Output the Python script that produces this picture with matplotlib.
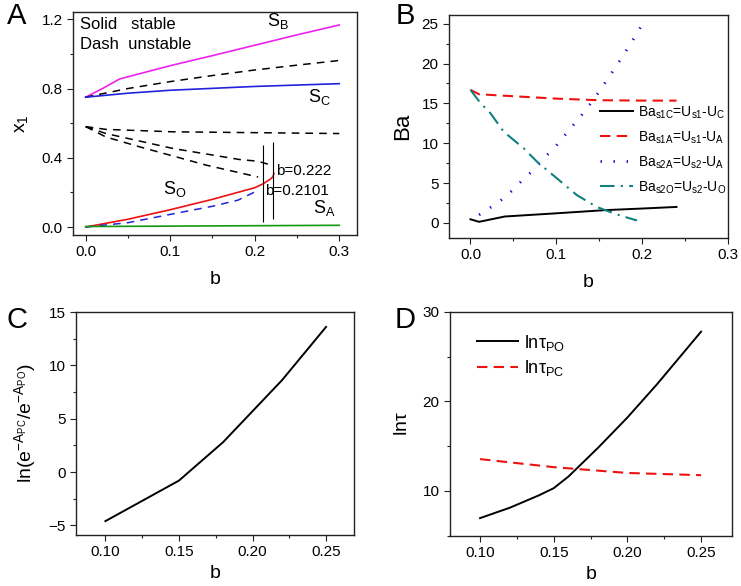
import numpy as np
import matplotlib
matplotlib.use('Agg')
import matplotlib.pyplot as plt
from matplotlib.ticker import MultipleLocator, FormatStrFormatter

plt.rcParams['font.family'] = ['Liberation Sans', 'DejaVu Sans']
plt.rcParams['mathtext.fontset'] = 'custom'
plt.rcParams['mathtext.rm'] = 'Liberation Sans'
plt.rcParams['mathtext.it'] = 'Liberation Sans'
plt.rcParams['mathtext.default'] = 'rm'

# ---- panel A data
b_SB = [0, 0.02, 0.04, 0.1, 0.15, 0.2, 0.25, 0.3]
x_SB = [0.75, 0.80, 0.855, 0.932, 0.99, 1.05, 1.11, 1.167]
b_up = [0, 0.025, 0.05, 0.1, 0.15, 0.2, 0.25, 0.3]
x_up = [0.75, 0.775, 0.80, 0.84, 0.875, 0.907, 0.935, 0.962]
b_SC = [0, 0.05, 0.1, 0.2, 0.3]
x_SC = [0.75, 0.773, 0.79, 0.812, 0.828]
b_flat = [0, 0.024, 0.103, 0.2215, 0.3]
x_flat = [0.58, 0.564, 0.55, 0.544, 0.54]
b_mid = [0, 0.024, 0.103, 0.182, 0.204, 0.221]
x_mid = [0.58, 0.54, 0.454, 0.39, 0.38, 0.355]
b_low = [0, 0.024, 0.064, 0.143, 0.204]
x_low = [0.58, 0.52, 0.463, 0.357, 0.289]
b_SO = [0, 0.05, 0.1, 0.15, 0.2, 0.21, 0.218, 0.2215, 0.2227]
x_SO = [0, 0.045, 0.1, 0.16, 0.227, 0.25, 0.275, 0.29, 0.31]
b_bd = [0, 0.05, 0.1, 0.15, 0.18, 0.204]
x_bd = [0, 0.025, 0.073, 0.12, 0.155, 0.212]
b_SA = [0, 0.3]
x_SA = [0.003, 0.01]
b_crit = [0.2101, 0.222]
crit_lo = [0.029, 0.044]
crit_hi = [0.475, 0.492]

# ---- panel B data
b_s1C = [0, 0.01, 0.04, 0.1, 0.157, 0.2, 0.24]
ba_s1C = [0.45, 0.13, 0.8, 1.2, 1.6, 1.8, 2.0]
b_s1A = [0, 0.01, 0.05, 0.1, 0.15, 0.2, 0.24]
ba_s1A = [16.7, 16.15, 15.9, 15.6, 15.4, 15.35, 15.35]
b_s2A = [0.01, 0.02, 0.03, 0.04, 0.05, 0.06, 0.07, 0.08, 0.09, 0.10, 0.11,
         0.12, 0.13, 0.14, 0.15, 0.16, 0.17, 0.18, 0.19, 0.20]
ba_s2A = [1.0, 1.7, 2.4, 3.2, 4.2, 5.3, 6.3, 7.4, 8.6, 9.7, 11.0,
          12.3, 13.6, 15.0, 16.5, 18.1, 19.7, 21.4, 23.1, 24.9]
b_s2O = [0, 0.012, 0.0233, 0.0387, 0.062, 0.0776, 0.1008, 0.124, 0.147,
         0.157, 0.175, 0.194]
ba_s2O = [16.7, 15.0, 13.76, 11.45, 9.36, 7.67, 5.58, 3.48, 2.01,
          1.6, 0.9, 0.3]

# ---- panel C data
b_C = [0.10, 0.15, 0.18, 0.20, 0.22, 0.25]
lnratio = [-4.6, -0.8, 2.8, 5.7, 8.6, 13.6]

# ---- panel D data
b_PO = [0.10, 0.12, 0.14, 0.15, 0.16, 0.17, 0.18, 0.20, 0.22, 0.25]
tau_PO = [6.95, 8.1, 9.5, 10.3, 11.6, 13.2, 14.8, 18.2, 21.9, 27.8]
b_PC = [0.10, 0.15, 0.20, 0.25]
tau_PC = [13.55, 12.65, 12.0, 11.75]

W, H = 741, 586
fig = plt.figure(figsize=(W / 100, H / 100), dpi=100)


def box(l, r, t, b):
    return [l / W, 1 - b / H, (r - l) / W, (b - t) / H]


def style(ax):
    for s in ax.spines.values():
        s.set_linewidth(1.0)
        s.set_color('#222222')
    ax.tick_params(which='both', direction='out', top=False, right=False,
                   labelsize=11, width=0.8, color='#222222')
    ax.tick_params(which='major', length=4)
    ax.tick_params(which='minor', length=2.5)


axA = fig.add_axes(box(73, 357, 12, 235))
axB = fig.add_axes(box(449, 728, 15, 238))
axC = fig.add_axes(box(76, 354, 312, 535))
axD = fig.add_axes(box(450, 732, 312, 536))

# ---------------- A
dash = (0, (5, 4))
axA.plot(b_SB, x_SB, color='#ee22ee', lw=1.2)
axA.plot(b_up, x_up, color='k', lw=1.1, ls=dash)
axA.plot(b_SC, x_SC, color='#2222dd', lw=1.2)
axA.plot(b_flat, x_flat, color='k', lw=1.1, ls=dash)
axA.plot(b_mid, x_mid, color='k', lw=1.1, ls=dash)
axA.plot(b_low, x_low, color='k', lw=1.1, ls=dash)
axA.plot(b_SO, x_SO, color='#ee1111', lw=1.2)
axA.plot(b_bd, x_bd, color='#2222dd', lw=1.1, ls=dash)
axA.plot(b_SA, x_SA, color='#119911', lw=1.2)
axA.vlines(b_crit, crit_lo, crit_hi, color='k', lw=0.8)
axA.set_xlim(-0.015, 0.321)
axA.set_ylim(-0.046, 1.242)
axA.xaxis.set_major_locator(MultipleLocator(0.1))
axA.xaxis.set_minor_locator(MultipleLocator(0.05))
axA.yaxis.set_major_locator(MultipleLocator(0.4))
axA.yaxis.set_minor_locator(MultipleLocator(0.2))
axA.xaxis.set_major_formatter(FormatStrFormatter('%.1f'))
axA.yaxis.set_major_formatter(FormatStrFormatter('%.1f'))
axA.set_xlabel('b', fontsize=14, labelpad=8)
axA.set_ylabel('x$_1$', fontsize=14, labelpad=8)
fs = 12
axA.text(-0.0067, 1.168, 'Solid   stable', fontsize=fs, va='center')
axA.text(-0.0067, 1.052, 'Dash  unstable', fontsize=fs, va='center')
axA.text(0.214, 1.19, 'S$_\\mathregular{B}$', fontsize=fs + 1, va='center')
axA.text(0.263, 0.75, 'S$_\\mathregular{C}$', fontsize=fs + 1, va='center')
axA.text(0.0915, 0.218, 'S$_\\mathregular{O}$', fontsize=fs + 1, va='center')
axA.text(0.269, 0.108, 'S$_\\mathregular{A}$', fontsize=fs + 1, va='center')
axA.text(0.225, 0.322, 'b=0.222', fontsize=11, va='center')
axA.text(0.212, 0.207, 'b=0.2101', fontsize=11, va='center')
style(axA)

# ---------------- B
axB.plot(b_s1C, ba_s1C, color='k', lw=1.4,
         label='Ba$_{s1C}$=U$_{s1}$-U$_C$')
axB.plot(b_s1A, ba_s1A, color='#ee1111', lw=1.5, ls=(0, (5, 3)),
         label='Ba$_{s1A}$=U$_{s1}$-U$_A$')
axB.plot(b_s2A, ba_s2A, color='#1111cc', lw=2.0, ls=(0, (0.5, 4.2)),
         label='Ba$_{s2A}$=U$_{s2}$-U$_A$')
axB.plot(b_s2O, ba_s2O, color='#118080', lw=1.5, ls=(0, (7, 3, 1, 3)),
         label='Ba$_{s2O}$=U$_{s2}$-U$_O$')
axB.set_xlim(-0.025, 0.3)
axB.set_ylim(-1.9, 26.1)
axB.xaxis.set_major_locator(MultipleLocator(0.1))
axB.xaxis.set_minor_locator(MultipleLocator(0.05))
axB.yaxis.set_major_locator(MultipleLocator(5))
axB.yaxis.set_minor_locator(MultipleLocator(2.5))
axB.xaxis.set_major_formatter(FormatStrFormatter('%.1f'))
axB.set_xlabel('b', fontsize=14, labelpad=8)
axB.set_ylabel('Ba', fontsize=16, labelpad=6)
axB.legend(loc='upper left', bbox_to_anchor=(0.52, 0.625), frameon=False,
           fontsize=10, handlelength=2.4, handletextpad=0.35,
           labelspacing=0.62, borderaxespad=0)
style(axB)

# ---------------- C
axC.plot(b_C, lnratio, color='k', lw=1.4)
axC.set_xlim(0.08, 0.269)
axC.set_ylim(-5.9, 15)
axC.xaxis.set_major_locator(MultipleLocator(0.05))
axC.xaxis.set_minor_locator(MultipleLocator(0.025))
axC.yaxis.set_major_locator(MultipleLocator(5))
axC.yaxis.set_minor_locator(MultipleLocator(2.5))
axC.xaxis.set_major_formatter(FormatStrFormatter('%.2f'))
axC.set_xlabel('b', fontsize=14, labelpad=4)
axC.set_ylabel('ln(e$^{-A_{PC}}$/e$^{-A_{PO}}$)', fontsize=14, labelpad=7)
style(axC)

# ---------------- D
axD.plot(b_PO, tau_PO, color='k', lw=1.4, label='ln$\\tau_{PO}$')
axD.plot(b_PC, tau_PC, color='#ee1111', lw=1.5, ls=(0, (5, 3)),
         label='ln$\\tau_{PC}$')
axD.set_xlim(0.0796, 0.271)
axD.set_ylim(4.95, 30)
axD.xaxis.set_major_locator(MultipleLocator(0.05))
axD.xaxis.set_minor_locator(MultipleLocator(0.025))
axD.yaxis.set_major_locator(MultipleLocator(10))
axD.yaxis.set_minor_locator(MultipleLocator(5))
axD.xaxis.set_major_formatter(FormatStrFormatter('%.2f'))
axD.set_xlabel('b', fontsize=14, labelpad=4)
axD.set_ylabel('ln$\\tau$', fontsize=14, labelpad=8)
axD.legend(loc='upper left', bbox_to_anchor=(0.07, 0.94), frameon=False,
           fontsize=13, handlelength=2.3, handletextpad=0.3,
           labelspacing=0.3, borderaxespad=0)
style(axD)

# panel letters
for lab, x, y in [('A', 7, 24), ('B', 396, 24), ('C', 6, 328), ('D', 395, 328)]:
    fig.text(x / W, 1 - y / H, lab, fontsize=21, ha='left', va='baseline')

fig.savefig('out.png', dpi=100)
